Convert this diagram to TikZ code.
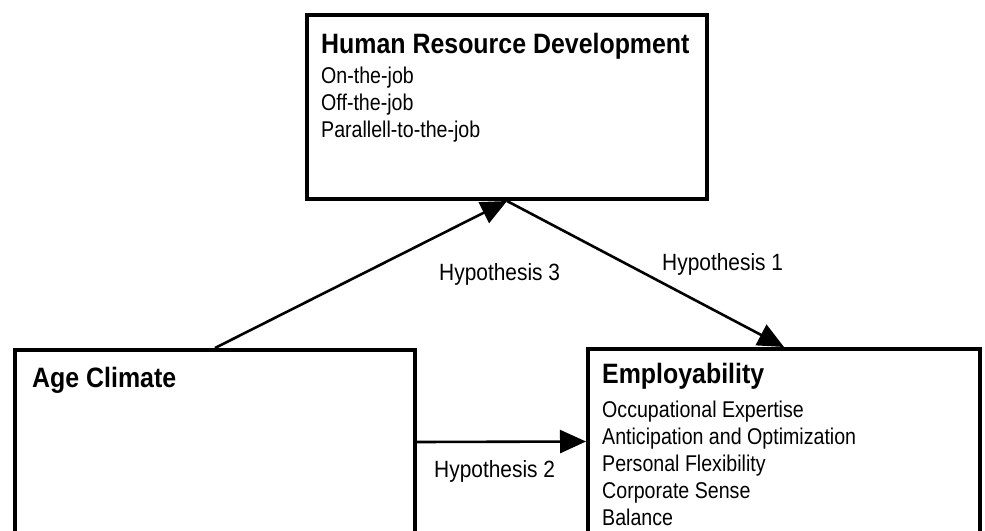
\documentclass[tikz,border=0pt]{standalone}
\usepackage{fontspec}
\setmainfont{Liberation Sans}
\newfontfamily\itemfont[FakeStretch=0.86]{Liberation Sans}
\newfontfamily\hypfont[FakeStretch=0.89]{Liberation Sans}
\newfontfamily\headfont[FakeStretch=0.89]{Liberation Sans}
\usetikzlibrary{arrows.meta}
\tikzset{
  box/.style={draw=black, fill=white, line width=4pt, rectangle, inner sep=0pt},
  conn/.style={draw=black, line width=2.6pt, -{Triangle[length=26pt,width=23pt]}},
  titletext/.style={anchor=base west, inner sep=0pt, font=\headfont\fontsize{28}{32}\selectfont\bfseries},
  itemtext/.style={anchor=base west, inner sep=0pt, font=\itemfont\fontsize{22.8}{26}\selectfont},
  hyptext/.style={anchor=base west, inner sep=0pt, font=\hypfont\fontsize{23.5}{27}\selectfont}
}
\begin{document}
\begin{tikzpicture}[x=1pt,y=-1pt]
\clip (0,0) rectangle (985,530);
\fill[white] (0,0) rectangle (985,530);
% boxes
\node[box, minimum width=400pt, minimum height=184pt] (hrd) at (507,107) {};
\node[box, minimum width=400pt, minimum height=210pt] (age) at (215,455) {};
\node[box, minimum width=392pt, minimum height=211pt] (emp) at (784,454.5) {};
% HRD text
\node[titletext] (hrdt) at (321,53) {Human Resource Development};
\node[itemtext] (hrd1) at (321,83) {On-the-job};
\node[itemtext] (hrd2) at (321,110) {Off-the-job};
\node[itemtext] (hrd3) at (321,137) {Parallell-to-the-job};
% Age text
\node[titletext] (aget) at (32,387) {Age Climate};
% Employability text
\node[titletext] (empt) at (602,383) {Employability};
\node[itemtext] (emp1) at (602,417) {Occupational Expertise};
\node[itemtext] (emp2) at (602,444) {Anticipation and Optimization};
\node[itemtext] (emp3) at (602,471) {Personal Flexibility};
\node[itemtext] (emp4) at (602,498) {Corporate Sense};
\node[itemtext] (emp5) at (602,525) {Balance};
% connectors
\draw[conn] (age.north) -- (hrd.south);
\draw[conn] (hrd.south) -- (emp.north);
\draw[conn] ([yshift=13pt]age.east) -- ([yshift=13pt]emp.west);
% labels
\node[hyptext] (h3) at (439,280) {Hypothesis 3};
\node[hyptext] (h1) at (662,270) {Hypothesis 1};
\node[hyptext] (h2) at (434,477) {Hypothesis 2};
\end{tikzpicture}
\end{document}
